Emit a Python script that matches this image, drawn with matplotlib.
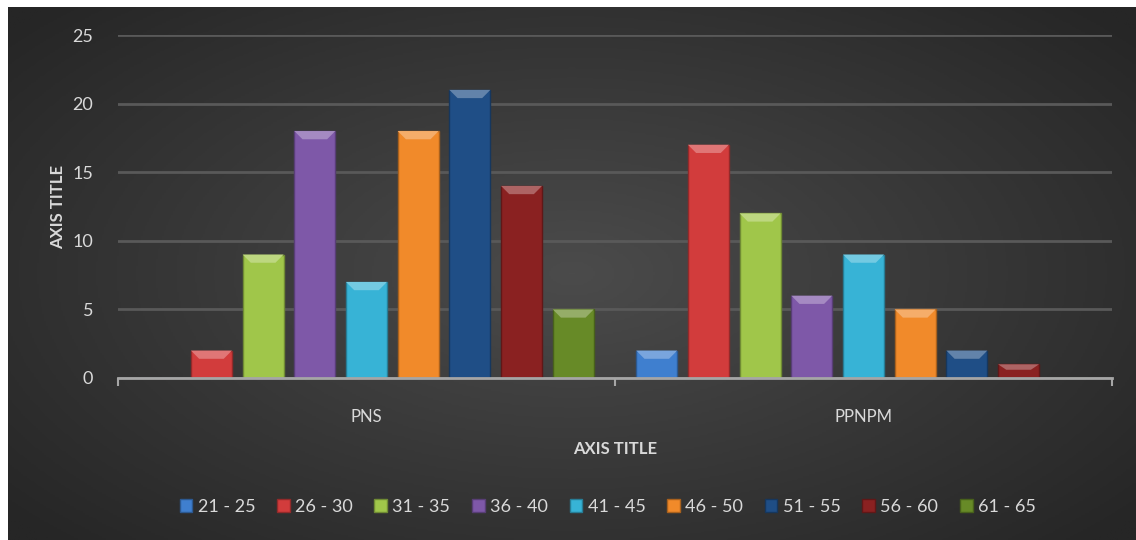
import matplotlib.pyplot as plt
import matplotlib.colors as mcolors
from matplotlib.patches import Polygon, Rectangle
import numpy as np

plt.rcParams['font.family'] = ['Lato', 'DejaVu Sans']

# Data
categories = ['PNS', 'PPNPM']
age_groups = ['21 - 25', '26 - 30', '31 - 35', '36 - 40', '41 - 45',
              '46 - 50', '51 - 55', '56 - 60', '61 - 65']
pns = [0, 2, 9, 18, 7, 18, 21, 14, 5]
ppnpm = [2, 17, 12, 6, 9, 5, 2, 1, 0]
colors = ['#3f7fcf', '#d23c3c', '#a0c64a', '#7e58a8', '#37b3d6',
          '#f18a2a', '#1f4e86', '#8a2121', '#678a27']

fig = plt.figure(figsize=(11.36, 5.40), dpi=100)
fig.patch.set_facecolor('white')

# dark radial gradient background
bg = fig.add_axes([8 / 1136, 0, 1 - 8 / 1136, 533 / 540])
bg.set_axis_off()
yy, xx = np.mgrid[-1:1:300j, -1:1:600j]
r = np.sqrt((xx / 1.0) ** 2 + (yy / 1.1) ** 2)
r = np.clip(r / 1.3, 0, 1)
cmap = mcolors.LinearSegmentedColormap.from_list('bg', ['#4b4b4b', '#262626'])
bg.imshow(r, cmap=cmap, aspect='auto', extent=[0, 1, 0, 1])

ax = fig.add_axes([118 / 1136, 162 / 540, 994 / 1136, 343 / 540])
ax.set_facecolor('none')

n = len(age_groups)
pitch = 0.104
width = 0.0825
x = np.arange(len(categories))
values = np.array([pns, ppnpm]).T  # shape (series, category)

handles = []
for i in range(n):
    xs = x + (i - (n - 1) / 2) * pitch
    base = mcolors.to_rgb(colors[i])
    dark = tuple(c * 0.7 for c in base)
    light = tuple(min(1, c + (1 - c) * 0.3) for c in base)
    bars = ax.bar(xs, values[i], width=width, color=colors[i],
                  edgecolor=dark, linewidth=1.0, zorder=3, label=age_groups[i])
    handles.append(Rectangle((0, 0), 1, 1, facecolor=colors[i], edgecolor=dark))
    for b in bars:
        h = b.get_height()
        if h <= 0:
            continue
        x0, w = b.get_x(), b.get_width()
        bev = min(0.6, h * 0.4)
        top = Polygon([(x0, h), (x0 + w, h), (x0 + w * 0.8, h - bev),
                       (x0 + w * 0.2, h - bev)], closed=True,
                      facecolor=light, edgecolor='none', zorder=4)
        ax.add_patch(top)

ax.set_xlim(-0.5, 1.5)
ax.set_ylim(0, 25)
ax.set_yticks(range(0, 26, 5))
ax.set_xticks([-0.5, 0.5, 1.5], minor=False)
ax.set_xticklabels([])
ax.set_xticks(x, minor=True)
ax.set_xticklabels(categories, minor=True)
ax.tick_params(axis='x', which='major', length=6, color='#a6a6a6', width=1.5,
               direction='out')
ax.tick_params(axis='x', which='minor', length=0, pad=22,
               labelcolor='#d9d9d9', labelsize=12)
ax.tick_params(axis='y', length=0, pad=18, labelcolor='#d9d9d9', labelsize=13)

ax.grid(axis='y', color='#595959', linewidth=2, zorder=0)
for s in ['top', 'right', 'left']:
    ax.spines[s].set_visible(False)
ax.spines['bottom'].set_color('#a6a6a6')
ax.spines['bottom'].set_linewidth(2)
ax.spines['bottom'].set_zorder(5)

ax.set_ylabel('AXIS TITLE', color='#d9d9d9', fontsize=12, fontweight='bold',
              labelpad=4)
ax.set_xlabel('AXIS TITLE', color='#d9d9d9', fontsize=12, fontweight='bold',
              labelpad=12)

fig.legend(handles, age_groups, loc='center', bbox_to_anchor=(0.535, 1 - 507 / 540),
           ncol=n, frameon=False, fontsize=13, labelcolor='#d9d9d9',
           handlelength=0.7, handleheight=0.7, handletextpad=0.3,
           columnspacing=1.2)

fig.savefig('out.png', dpi=100, facecolor=fig.get_facecolor())
